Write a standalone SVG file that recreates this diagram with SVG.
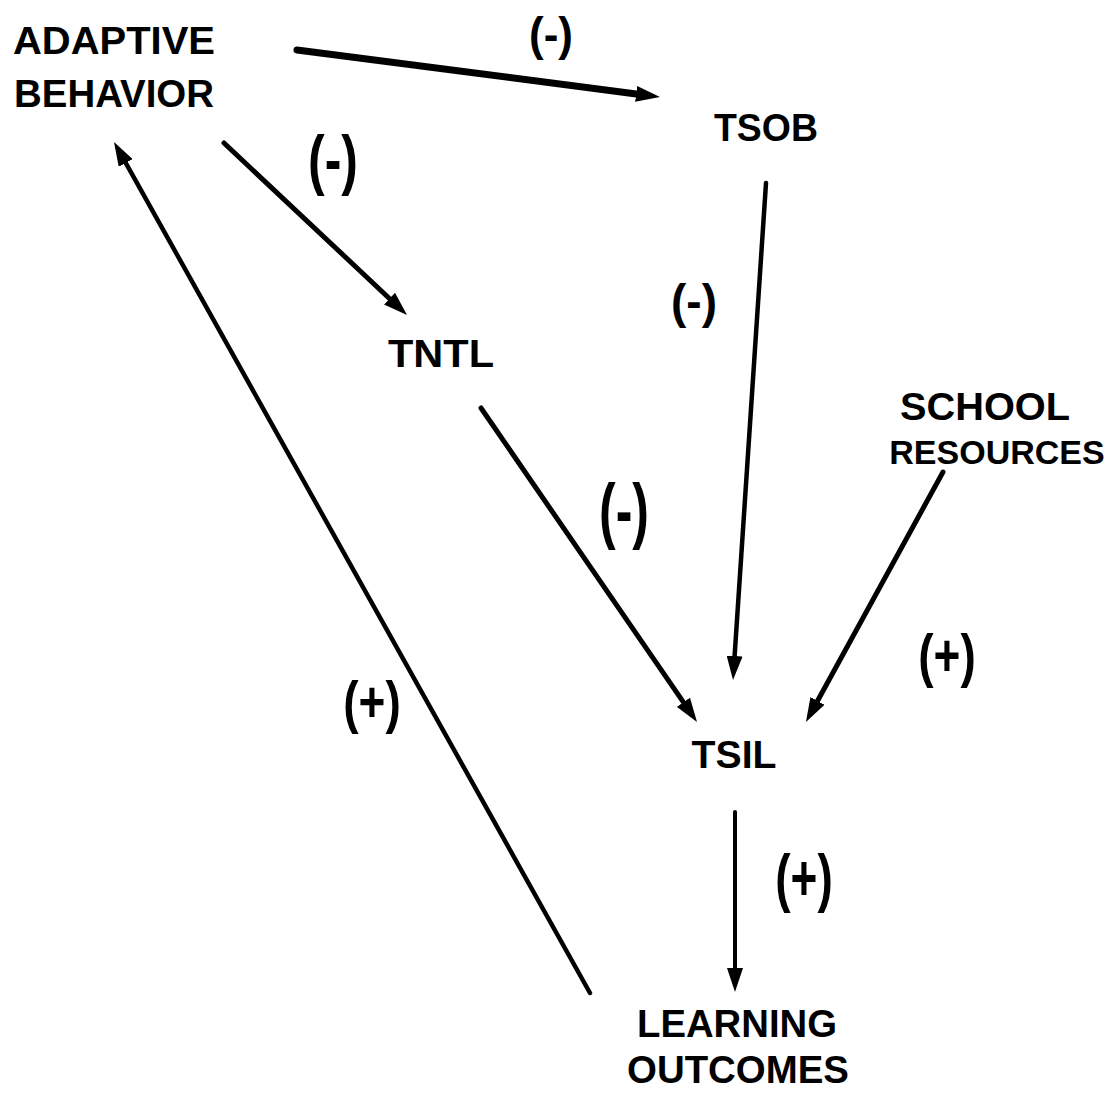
<svg xmlns="http://www.w3.org/2000/svg" width="1116" height="1095" viewBox="0 0 1116 1095">
<style>
.n{font-family:"Liberation Sans",Arial,sans-serif;font-weight:bold;font-size:38px;fill:#000;text-anchor:middle}
.l{font-family:"Liberation Sans",Arial,sans-serif;font-weight:bold;fill:#000;text-anchor:middle}
.c{fill:none;stroke:#000;stroke-linecap:round}
</style>
<defs>
<marker id="ah" viewBox="0 0 24 16" refX="6" refY="8" markerWidth="24" markerHeight="16" markerUnits="userSpaceOnUse" orient="auto">
<path d="M0,0 L24,8 L0,16 z" fill="#000"/>
</marker>
</defs>
<rect width="1116" height="1095" fill="#fff"/>
<g id="connectors">
<line class="c" x1="297" y1="50" x2="642.1" y2="94.7" stroke-width="7" marker-end="url(#ah)"/>
<line class="c" x1="224" y1="143" x2="393.9" y2="302.7" stroke-width="5" marker-end="url(#ah)"/>
<line class="c" x1="766" y1="183" x2="734.2" y2="662" stroke-width="4.5" marker-end="url(#ah)"/>
<line class="c" x1="481" y1="408" x2="686.8" y2="707.2" stroke-width="5" marker-end="url(#ah)"/>
<line class="c" x1="943" y1="472" x2="814.6" y2="706.2" stroke-width="5" marker-end="url(#ah)"/>
<line class="c" x1="735" y1="812" x2="735" y2="974" stroke-width="4" marker-end="url(#ah)"/>
<line class="c" x1="590" y1="993" x2="122.8" y2="157.7" stroke-width="4.5" marker-end="url(#ah)"/>
</g>
<g id="labels">
<text class="l" font-size="44" transform="translate(551,50) scale(1,1.05)">(-)</text>
<text class="l" font-size="50" transform="translate(333,182) scale(1,1.35)">(-)</text>
<text class="l" font-size="46" transform="translate(694,318) scale(1,1.05)">(-)</text>
<text class="l" font-size="50" transform="translate(624,535) scale(1,1.45)">(-)</text>
<text class="l" font-size="46" transform="translate(947,676) scale(1,1.3)">(+)</text>
<text class="l" font-size="46" transform="translate(372,722) scale(1,1.25)">(+)</text>
<text class="l" font-size="46" transform="translate(804,900) scale(1,1.4)">(+)</text>
</g>
<g id="adaptive-behavior">
<text class="n" x="114" y="54" textLength="202" lengthAdjust="spacingAndGlyphs">ADAPTIVE</text>
<text class="n" x="114" y="107" textLength="200" lengthAdjust="spacingAndGlyphs">BEHAVIOR</text>
</g>
<g id="tsob">
<text class="n" x="766" y="141" textLength="104" lengthAdjust="spacingAndGlyphs">TSOB</text>
</g>
<g id="tntl">
<text class="n" x="441" y="367" textLength="106" lengthAdjust="spacingAndGlyphs">TNTL</text>
</g>
<g id="school-resources">
<text class="n" x="985" y="420" textLength="170" lengthAdjust="spacingAndGlyphs">SCHOOL</text>
<text class="n" x="997" y="464" style="font-size:34px">RESOURCES</text>
</g>
<g id="tsil">
<text class="n" x="734" y="768" textLength="85" lengthAdjust="spacingAndGlyphs">TSIL</text>
</g>
<g id="learning-outcomes">
<text class="n" x="737" y="1037" textLength="200" lengthAdjust="spacingAndGlyphs">LEARNING</text>
<text class="n" x="738" y="1083" textLength="222" lengthAdjust="spacingAndGlyphs">OUTCOMES</text>
</g>
</svg>
